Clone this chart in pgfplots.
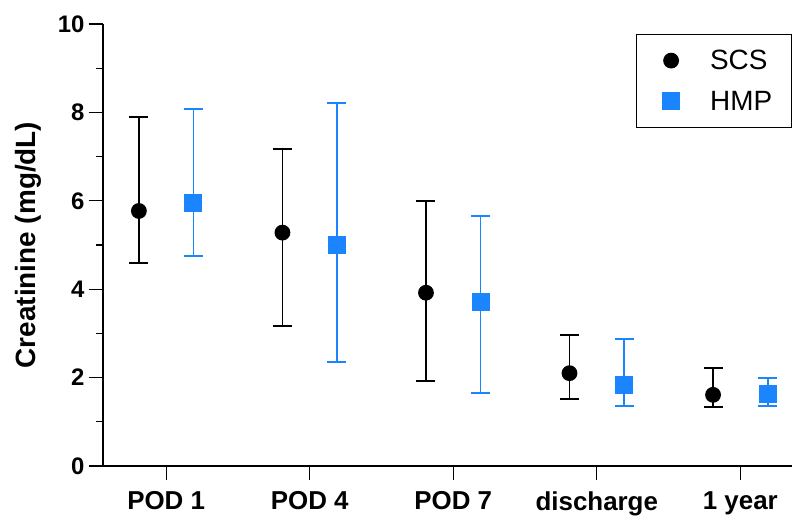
\documentclass[border=0pt]{standalone}
\usepackage{pgfplots}
\pgfplotsset{compat=1.18}
\usepackage{fontspec}
\setmainfont{Liberation Sans}
\definecolor{hmpblue}{HTML}{1A85FF}
\begin{document}
\begin{tikzpicture}
\begin{axis}[
  scale only axis,
  width=689bp, height=442bp,
  at={(0,0)}, anchor=south west,
  xmin=-0.44, xmax=4.36,
  ymin=0, ymax=10,
  axis x line*=bottom, axis y line*=left,
  axis line style={line width=1.3bp, -},
  ytick={0,2,4,6,8,10},
  minor ytick={1,3,5,7,9},
  xtick={0,1,2,3,4},
  xticklabels={POD 1,POD 4,POD 7,discharge,1 year},
  tick style={line width=1.3bp, black},
  tick align=outside,
  major tick length=14bp,
  minor tick length=7bp,
  /pgf/number format/assume math mode=true,
  yticklabel style={font=\fontsize{24}{28}\selectfont\bfseries, xshift=-1bp},
  xticklabel style={font=\fontsize{26}{30}\selectfont\bfseries, yshift=-8bp},
  ylabel={Creatinine (mg/dL)},
  every axis y label/.style={at={(rel axis cs:0,0.5)}, rotate=90, anchor=center, yshift=75bp,
    font=\fontsize{28}{32}\selectfont\bfseries},
  legend style={at={(rel axis cs:1,0.978)}, anchor=north east, draw=black, line width=0.8bp,
    font=\fontsize{28}{32}\selectfont, row sep=16bp, inner xsep=17.5bp, inner ysep=14bp,
    cells={anchor=west}},
  legend image code/.code={\path[draw=none,fill=none] (-17bp,0bp) (37bp,0bp);\draw[#1] plot coordinates {(0bp,0bp)};},
  legend cell align=left,
  clip=false,
]
\addplot[only marks, black, mark=*, mark size=7bp, line width=1.8bp,
  error bars/.cd, y dir=both, y explicit,
  error bar style={line width=1.8bp, black},
  error mark options={rotate=90, mark size=9.5bp, line width=1.8bp, black}]
  table[x=x, y=y, y error plus=ep, y error minus=em] {
  x y ep em
  -0.19 5.77 2.13 1.18
  0.81 5.28 1.90 2.12
  1.81 3.92 2.08 1.99
  2.81 2.10 0.87 0.59
  3.81 1.61 0.60 0.27
};
\addlegendentry{SCS}
\addplot[only marks, hmpblue, mark=square*, mark size=8.5bp, line width=1.8bp,
  mark options={draw=hmpblue, fill=hmpblue, line width=0pt},
  error bars/.cd, y dir=both, y explicit,
  error bar style={line width=1.8bp, hmpblue},
  error mark options={rotate=90, mark size=9.5bp, line width=1.8bp, hmpblue}]
  table[x=x, y=y, y error plus=ep, y error minus=em] {
  x y ep em
  0.19 5.95 2.13 1.19
  1.19 5.00 3.21 2.65
  2.19 3.70 1.96 2.04
  3.19 1.83 1.04 0.47
  4.19 1.64 0.36 0.28
};
\addlegendentry{HMP}
\end{axis}
\pgfresetboundingbox
\path[use as bounding box] (-103bp,-50bp) rectangle (689bp,466bp);
\end{tikzpicture}
\end{document}
